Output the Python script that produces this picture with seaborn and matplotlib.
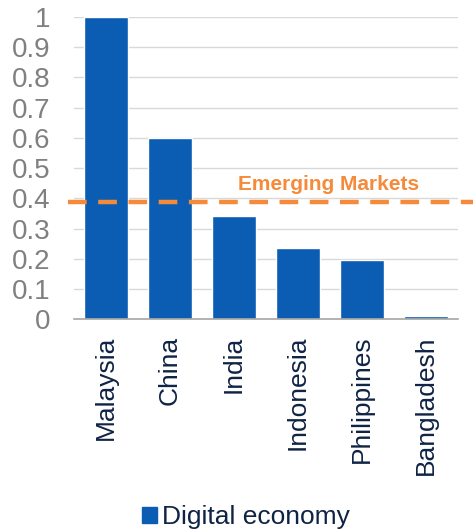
import numpy as np
import pandas as pd
import seaborn as sns
import matplotlib.pyplot as plt

# 数据
countries = ['Malaysia', 'China', 'India', 'Indonesia', 'Philippines', 'Bangladesh']
digital_economy = [1.0, 0.60, 0.342, 0.235, 0.195, 0.011]
emerging_markets = 0.387

sns.set_style("white")
plt.rcParams['font.family'] = ['Liberation Sans', 'DejaVu Sans']

df = pd.DataFrame({'country': countries, 'value': digital_economy,
                   'series': 'Digital economy'})

fig = plt.figure(figsize=(4.73, 5.32), dpi=100)
ax = fig.add_axes([0.156, 0.400, 0.812, 0.568])

bar_color = '#0B5DB3'
sns.barplot(data=df, x='country', y='value', hue='series', palette=[bar_color],
            width=0.69, ax=ax, legend=False, saturation=1)

ax.set_ylim(0, 1)
ax.set_xlim(-0.5, len(countries) - 0.5)
ax.set_yticks(np.arange(0, 1.01, 0.1))
ax.set_yticklabels(['0'] + [f'{v:.1f}' for v in np.arange(0.1, 0.95, 0.1)] + ['1'])
ax.yaxis.grid(True, color='#d9d9d9', linewidth=1)
ax.set_axisbelow(True)
ax.set_xlabel('')
ax.set_ylabel('')

for s in ['top', 'right', 'left']:
    ax.spines[s].set_visible(False)
ax.spines['bottom'].set_color('#a6a6a6')
ax.spines['bottom'].set_linewidth(1.2)

ax.tick_params(axis='y', length=0, labelsize=20, labelcolor='#808080', pad=17)
ax.tick_params(axis='x', which='major', length=0, labelsize=19,
               labelcolor='#0F2344', rotation=90, pad=12)
ax.set_xticks(np.arange(-0.5, len(countries), 1), minor=True)
ax.tick_params(axis='x', which='minor', length=6, color='#a6a6a6', width=1.2)

# Emerging Markets 参考线
ax.axhline(emerging_markets, xmin=-0.016, xmax=1.04, clip_on=False,
           color='#F58A3A', linewidth=3.2, dashes=(4.2, 2.6))
ax.text(3.48, emerging_markets + 0.027, 'Emerging Markets', color='#F58A3A',
        fontsize=15, fontweight='bold', ha='center', va='bottom')

# 图例
handle = plt.Rectangle((0, 0), 1, 1, color=bar_color)
leg = fig.legend([handle], ['Digital economy'], loc='center',
                 bbox_to_anchor=(0.52, 0.028), frameon=False, fontsize=19,
                 handlelength=0.55, handleheight=0.55, handletextpad=0.2)
for t in leg.get_texts():
    t.set_color('#0F2344')

fig.savefig('out.png', dpi=100)
